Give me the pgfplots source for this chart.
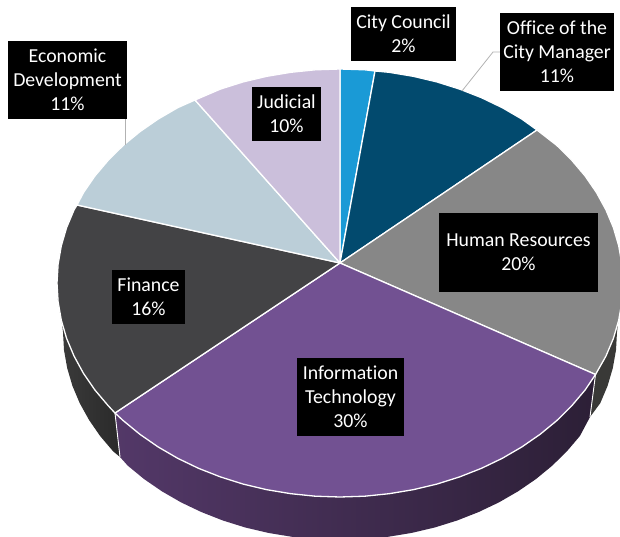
\documentclass[border=0pt]{standalone}
\usepackage{fontspec}
\setmainfont{Carlito}[Ligatures=CommonOff]
\usepackage{pgfplots}
\pgfplotsset{compat=1.18}

\definecolor{ccouncil}{HTML}{1A9AD6}
\definecolor{cmanager}{HTML}{024A6E}
\definecolor{chr}{HTML}{878787}
\definecolor{cit}{HTML}{725192}
\definecolor{cfin}{HTML}{434345}
\definecolor{cecon}{HTML}{BBCED8}
\definecolor{cjud}{HTML}{CBBFDB}
\definecolor{wallfa}{HTML}{3B3B3B}
\definecolor{wallfb}{HTML}{2A2A2A}
\definecolor{wallhr}{HTML}{393937}
\definecolor{wallia}{HTML}{533868}
\definecolor{wallib}{HTML}{2F2039}
\definecolor{wallic}{HTML}{2C1F36}

\tikzset{lab/.style={fill=black,text=white,inner sep=0pt,align=center,
  font=\fontsize{19.8}{24}\selectfont}}

\begin{document}
\begin{tikzpicture}
\begin{axis}[
  name=pie,
  x=1pt, y=1pt,
  xmin=0, xmax=620, ymin=0, ymax=537,
  y dir=reverse,
  hide axis,
  scale only axis,
  clip=true,
  every axis plot/.append style={no marks, forget plot},
  wedge/.style={draw=white, line width=1.3pt, line join=round},
]
% side walls
\addplot[draw=none, left color=wallfa, right color=wallfb] coordinates {
 (115,413) (108.2,405.7) (94.9,390) (83.5,373.4) (74.1,356.2) (66.6,338.4) (61.3,320.2) (58.1,301.7) (57,283)
 (63,332) (64,350.1) (67.2,368.1) (72.4,385.8) (79.7,403.1) (89,419.9) (100.1,436) (113.1,451.3) (120,457)
} -- cycle;
\addplot[draw=none, fill=wallhr] coordinates {
 (595.5,374.5) (605.9,356.2) (613.4,338.4) (618.7,320.2) (621.9,301.7) (623,283)
 (617,332) (616,350.1) (612.8,368.1) (607.6,385.8) (600.3,403.1) (590,417)
} -- cycle;
\addplot[draw=none, left color=wallia, middle color=wallib, right color=wallic] coordinates {
 (595.5,374.5) (585.1,390) (571.8,405.7) (556.8,420.6) (540.1,434.3) (521.9,446.9) (502.3,458.3) (481.5,468.3)
 (459.6,476.9) (436.8,484.1) (413.2,489.7) (389.1,493.7) (364.7,496.2) (340,497) (315.3,496.2) (290.9,493.7)
 (266.8,489.7) (243.2,484.1) (220.4,476.9) (198.5,468.3) (177.7,458.3) (158.1,446.9) (139.9,434.3) (123.2,420.6) (115,413)
 (120,457) (127.8,465.7) (144.1,479.1) (161.9,491.3) (181.1,502.4) (201.5,512.1) (222.9,520.5) (245.3,527.5)
 (268.3,532.9) (291.9,536.8) (315.9,539.2) (340,540) (364.1,539.2) (388.1,536.8) (411.7,532.9) (434.7,527.5)
 (457.1,520.5) (478.5,512.1) (498.9,502.4) (518.1,491.3) (535.9,479.1) (552.2,465.7) (566.9,451.3) (579.9,436) (590,417)
} -- cycle;
\addplot[draw=white, line width=0.9pt] coordinates {(115,413) (120,457)};
\addplot[draw=white, line width=0.9pt] coordinates {(595.5,374.5) (590,417)};
% top faces
\addplot[wedge, fill=ccouncil] coordinates {
 (340,263) (340,69) (364.7,69.8) (375,71)
} -- cycle;
\addplot[wedge, fill=cmanager] coordinates {
 (340,263) (375,71) (389.1,72.3) (413.2,76.3) (436.8,81.9) (459.6,89.1) (481.5,97.7) (502.3,107.7) (521.9,119.1) (537,130)
} -- cycle;
\addplot[wedge, fill=chr] coordinates {
 (340,263) (537,130) (556.8,145.4) (571.8,160.3) (585.1,176) (596.5,192.6) (605.9,209.8) (613.4,227.6) (618.7,245.8)
 (621.9,264.3) (623,283) (621.9,301.7) (618.7,320.2) (613.4,338.4) (605.9,356.2) (595.5,374.5)
} -- cycle;
\addplot[wedge, fill=cit] coordinates {
 (340,263) (595.5,374.5) (585.1,390) (571.8,405.7) (556.8,420.6) (540.1,434.3) (521.9,446.9) (502.3,458.3) (481.5,468.3)
 (459.6,476.9) (436.8,484.1) (413.2,489.7) (389.1,493.7) (364.7,496.2) (340,497) (315.3,496.2) (290.9,493.7)
 (266.8,489.7) (243.2,484.1) (220.4,476.9) (198.5,468.3) (177.7,458.3) (158.1,446.9) (139.9,434.3) (123.2,420.6) (115,413)
} -- cycle;
\addplot[wedge, fill=cfin] coordinates {
 (340,263) (115,413) (108.2,405.7) (94.9,390) (83.5,373.4) (74.1,356.2) (66.6,338.4) (61.3,320.2) (58.1,301.7) (57,283)
 (58.1,264.3) (61.3,245.8) (66.6,227.6) (74.1,209.8) (77,205)
} -- cycle;
\addplot[wedge, fill=cecon] coordinates {
 (340,263) (77,205) (83.5,192.6) (94.9,176) (108.2,160.3) (123.2,145.4) (139.9,131.7) (158.1,119.1) (177.7,107.7) (195,100)
} -- cycle;
\addplot[wedge, fill=cjud] coordinates {
 (340,263) (195,100) (220.4,89.1) (243.2,81.9) (266.8,76.3) (290.9,72.3) (315.3,69.8) (340,69)
} -- cycle;
% leader lines
\addplot[draw=black!30, line width=0.8pt] coordinates {(462,91) (493,52) (500,52)};
\addplot[draw=black!30, line width=0.8pt] coordinates {(125,119) (125,145)};
% data labels
\node[lab, minimum width=105pt, minimum height=54pt] at (axis cs:403.5,34) {City Council\\2\%};
\node[lab, minimum width=114pt, minimum height=78pt] at (axis cs:557,52) {Office of the\\City Manager\\11\%};
\node[lab, minimum width=119pt, minimum height=78pt] at (axis cs:67.5,80) {Economic\\Development\\11\%};
\node[lab, minimum width=69pt, minimum height=54pt] at (axis cs:286.5,114) {Judicial\\10\%};
\node[lab, minimum width=159pt, minimum height=79pt] at (axis cs:518.5,252.5) {Human Resources\\20\%};
\node[lab, minimum width=73pt, minimum height=54pt] at (axis cs:148.5,297) {Finance\\16\%};
\node[lab, minimum width=107pt, minimum height=78pt] at (axis cs:350.5,397) {Information\\Technology\\30\%};
\end{axis}
\pgfresetboundingbox
\path (pie.south west) rectangle (pie.north east);
\end{tikzpicture}
\end{document}
